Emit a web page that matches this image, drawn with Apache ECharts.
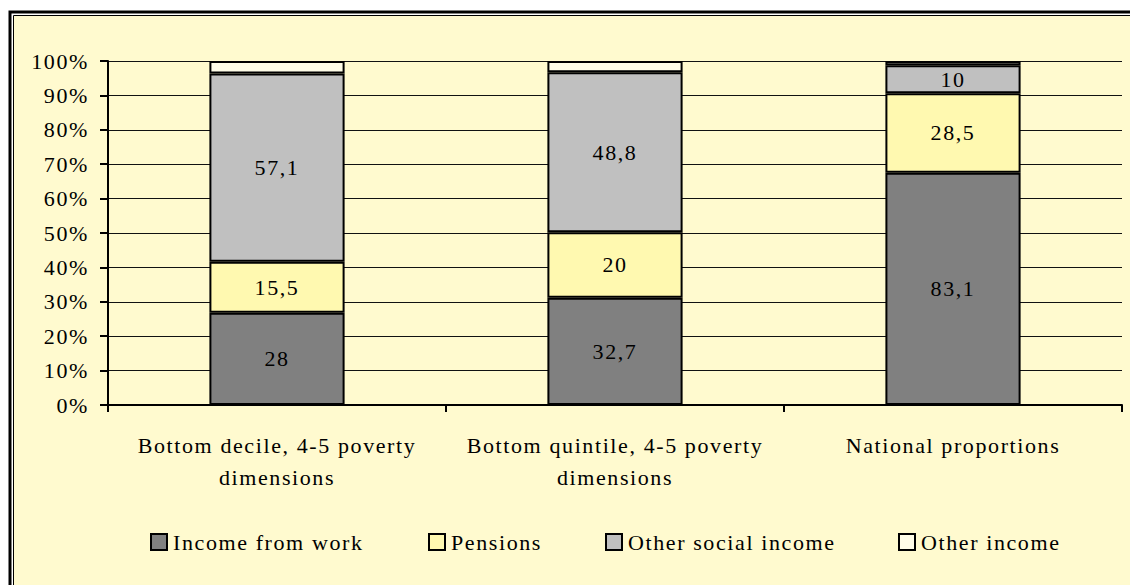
<!DOCTYPE html>
<html>
<head>
<meta charset="utf-8">
<script src="https://cdn.jsdelivr.net/npm/echarts@6/dist/echarts.min.js"></script>
<style>
  html, body { margin: 0; padding: 0; background: #ffffff; }
  #chart { width: 1130px; height: 585px; letter-spacing: 1.6px; }
</style>
</head>
<body>
<div id="chart"></div>
<script>
// ---- Data ----
const categories = ['Bottom decile, 4-5 poverty\ndimensions', 'Bottom quintile, 4-5 poverty\ndimensions', 'National proportions'];
const seriesNames = ['Income from work', 'Pensions', 'Other social income', 'Other income'];
const incomeFromWork = [28, 32.7, 83.1];
const pensions = [15.5, 20, 28.5];
const otherSocialIncome = [57.1, 48.8, 10];
const otherIncome = [3.8, 3.4, 1.5];
const yTicks = [0, 10, 20, 30, 40, 50, 60, 70, 80, 90, 100];

const rawSeries = [incomeFromWork, pensions, otherSocialIncome, otherIncome];
const totals = categories.map((c, i) => rawSeries.reduce((s, arr) => s + arr[i], 0));
const colors = ['#808080', '#FFF9B0', '#C0C0C0', '#FFFDE8'];
const FONT = "'Liberation Serif', 'Times New Roman', serif";

const chart = echarts.init(document.getElementById('chart'), null, { renderer: 'svg' });

const series = rawSeries.map((arr, si) => ({
  name: seriesNames[si],
  type: 'bar',
  stack: 'total',
  barWidth: '40%',
  data: arr.map((v, i) => v / totals[i] * 100),
  itemStyle: { color: colors[si], borderColor: '#000', borderWidth: 2 },
  label: {
    show: si < 3,
    position: 'inside',
    fontFamily: FONT,
    fontSize: 22,
    color: '#000',
    formatter: p => String(arr[p.dataIndex]).replace('.', ',')
  },
  emphasis: { disabled: true }
}));

const legendLefts = [150, 428, 605, 898];
const legends = seriesNames.map((n, i) => ({
  data: [n],
  left: legendLefts[i],
  top: 531,
  padding: 0,
  itemWidth: 16,
  itemHeight: 16,
  itemGap: 0,
  icon: 'rect',
  itemStyle: { borderColor: '#000', borderWidth: 2 },
  textStyle: { fontFamily: FONT, fontSize: 22, color: '#000', padding: [0, 0, 0, 1] },
  selectedMode: false
}));

chart.setOption({
  animation: false,
  backgroundColor: '#ffffff',
  graphic: [
    { type: 'rect', z: -10, shape: { x: 10, y: 12, width: 1300, height: 800 },
      style: { fill: '#ffffff', stroke: '#000', lineWidth: 3 } },
    { type: 'rect', z: -9, shape: { x: 13.5, y: 15.5, width: 1300, height: 800 },
      style: { fill: '#FFFACF', stroke: '#000', lineWidth: 1 } }
  ],
  legend: legends,
  grid: { left: 108, right: 8, top: 61, bottom: 180, containLabel: false },
  xAxis: {
    type: 'category',
    data: categories,
    axisLine: { lineStyle: { color: '#000', width: 2 } },
    axisTick: { show: true, alignWithLabel: false, length: 7, lineStyle: { color: '#000', width: 2 } },
    axisLabel: { margin: 24, fontFamily: FONT, fontSize: 22, color: '#000', lineHeight: 32, verticalAlign: 'top', interval: 0 }
  },
  yAxis: {
    type: 'value',
    min: yTicks[0],
    max: yTicks[yTicks.length - 1],
    interval: yTicks[1] - yTicks[0],
    axisLine: { show: true, lineStyle: { color: '#000', width: 2 } },
    axisTick: { show: true, length: 8, lineStyle: { color: '#000', width: 2 } },
    axisLabel: { margin: 19, fontFamily: FONT, fontSize: 22, color: '#000', formatter: '{value}%' },
    splitLine: { show: true, lineStyle: { color: '#111', width: 1 } }
  },
  series: series
});
</script>
</body>
</html>
